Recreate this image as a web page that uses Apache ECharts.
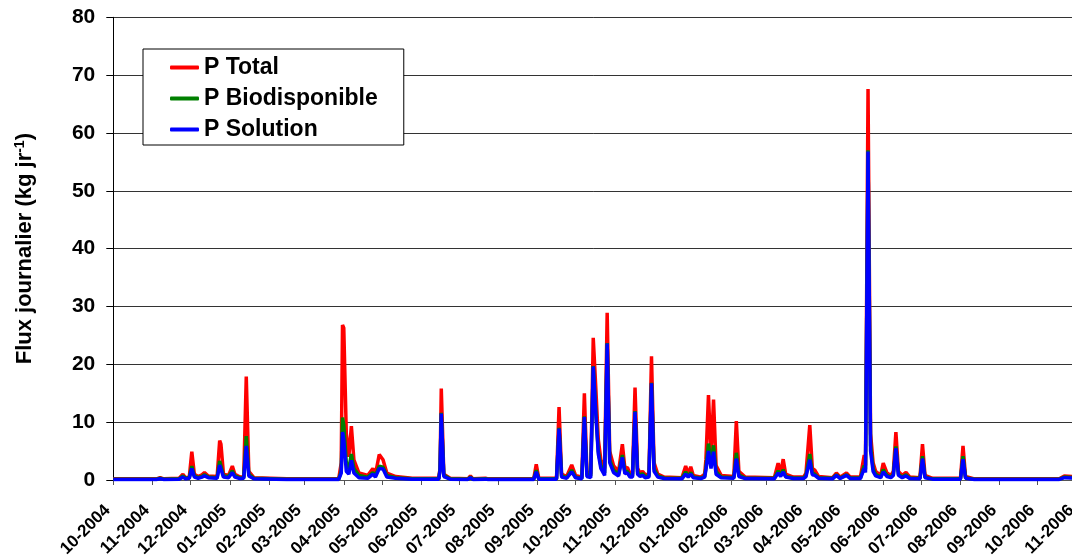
<!DOCTYPE html>
<html>
<head>
<meta charset="utf-8">
<script src="https://cdn.jsdelivr.net/npm/echarts@6/dist/echarts.min.js"></script>
<style>html,body{margin:0;padding:0;background:#fff;}#c{width:1072px;height:559px;}</style>
</head>
<body>
<div id="c"></div>
<script>
// Month-start tick labels on the x axis
const monthTicks = ['2004-10-01','2004-11-01','2004-12-01','2005-01-01','2005-02-01','2005-03-01',
  '2005-04-01','2005-05-01','2005-06-01','2005-07-01','2005-08-01','2005-09-01','2005-10-01',
  '2005-11-01','2005-12-01','2006-01-01','2006-02-01','2006-03-01','2006-04-01','2006-05-01',
  '2006-06-01','2006-07-01','2006-08-01','2006-09-01','2006-10-01','2006-11-01'];

const seriesNames = ['P Total', 'P Biodisponible', 'P Solution'];

// Key dates
const dates = [
  '2004-10-01','2004-11-04','2004-11-07','2004-11-10','2004-11-22','2004-11-25','2004-11-27','2004-11-30',
  '2004-12-02','2004-12-04','2004-12-07','2004-12-10','2004-12-12','2004-12-15','2004-12-22','2004-12-24',
  '2004-12-25','2004-12-27','2004-12-31','2005-01-03','2005-01-05','2005-01-09','2005-01-12','2005-01-14',
  '2005-01-16','2005-01-20','2005-02-15','2005-03-28','2005-03-30','2005-03-31','2005-04-01','2005-04-03',
  '2005-04-05','2005-04-07','2005-04-09','2005-04-13','2005-04-20','2005-04-24','2005-04-26','2005-04-29',
  '2005-05-02','2005-05-05','2005-05-12','2005-05-25','2005-06-15','2005-06-16','2005-06-17','2005-06-19',
  '2005-06-24','2005-07-08','2005-07-10','2005-07-12','2005-07-22','2005-07-24','2005-08-29','2005-08-31',
  '2005-09-02','2005-09-16','2005-09-18','2005-09-20','2005-09-24','2005-09-28','2005-10-01','2005-10-06',
  '2005-10-08','2005-10-10','2005-10-13','2005-10-15','2005-10-17','2005-10-19','2005-10-21','2005-10-24',
  '2005-10-26','2005-10-28','2005-10-31','2005-11-04','2005-11-07','2005-11-09','2005-11-11','2005-11-13',
  '2005-11-15','2005-11-17','2005-11-19','2005-11-21','2005-11-23','2005-11-25','2005-11-28','2005-11-30',
  '2005-12-02','2005-12-05','2005-12-10','2005-12-24','2005-12-27','2005-12-29','2005-12-31','2006-01-02',
  '2006-01-08','2006-01-11','2006-01-12','2006-01-14','2006-01-16','2006-01-18','2006-01-20','2006-01-24',
  '2006-02-03','2006-02-05','2006-02-07','2006-02-12','2006-03-07','2006-03-10','2006-03-12','2006-03-14',
  '2006-03-16','2006-03-22','2006-03-30','2006-04-01','2006-04-04','2006-04-06','2006-04-08','2006-04-11',
  '2006-04-22','2006-04-25','2006-04-28','2006-05-03','2006-05-06','2006-05-14','2006-05-17','2006-05-18',
  '2006-05-20','2006-05-22','2006-05-24','2006-05-26','2006-05-30','2006-06-01','2006-06-04','2006-06-07',
  '2006-06-09','2006-06-11','2006-06-13','2006-06-16','2006-06-19','2006-06-22','2006-06-30','2006-07-02',
  '2006-07-04','2006-07-10','2006-08-01','2006-08-03','2006-08-05','2006-08-12','2006-10-18','2006-10-22',
  '2006-10-28','2006-11-05','2006-11-30'
];

const pTotal = [
  0.2, 0.2, 0.4, 0.2, 0.3, 1.0, 0.4, 0.5,
  4.9, 1.0, 0.6, 0.9, 1.3, 0.7, 0.6, 6.8,
  6.2, 1.0, 0.8, 2.4, 1.0, 0.5, 0.6, 17.9,
  1.5, 0.4, 0.2, 0.2, 3.0, 26.8, 26.3, 8.0,
  4.0, 9.3, 3.5, 1.2, 0.8, 2.0, 1.0, 4.4,
  3.5, 1.2, 0.6, 0.3, 0.3, 2.0, 15.8, 1.0,
  0.3, 0.2, 0.7, 0.2, 0.3, 0.2, 0.2, 2.7,
  0.3, 0.3, 12.6, 1.0, 0.6, 2.6, 0.8, 0.5,
  15.0, 1.5, 1.0, 24.6, 16.0, 7.0, 3.5, 2.0,
  28.9, 5.0, 2.5, 1.5, 6.2, 2.0, 2.2, 1.0,
  1.0, 16.0, 2.0, 1.2, 1.5, 0.9, 1.0, 21.4,
  3.0, 1.0, 0.5, 0.4, 2.4, 1.0, 2.3, 0.8,
  0.5, 1.0, 3.6, 14.7, 4.0, 13.9, 2.5, 0.8,
  0.6, 10.2, 1.5, 0.5, 0.4, 2.9, 1.2, 3.6,
  1.0, 0.5, 0.5, 1.2, 9.5, 2.0, 1.7, 0.6,
  0.4, 1.2, 0.5, 1.2, 0.5, 0.5, 4.3, 2.5,
  67.6, 8.0, 3.0, 1.5, 0.8, 2.9, 1.2, 0.8,
  1.5, 8.3, 1.5, 0.8, 1.3, 0.5, 0.4, 6.2,
  0.8, 0.3, 0.3, 5.9, 0.6, 0.2, 0.2, 0.7,
  0.6, 0.5, 0.4
];

const pBio = [
  0.15, 0.15, 0.3, 0.15, 0.2, 0.7, 0.3, 0.4,
  2.4, 0.7, 0.4, 0.6, 0.9, 0.5, 0.4, 3.3,
  3.0, 0.7, 0.6, 1.6, 0.7, 0.35, 0.4, 7.6,
  1.0, 0.3, 0.15, 0.15, 1.5, 10.8, 9.5, 3.0,
  2.0, 4.5, 2.0, 0.8, 0.5, 1.3, 0.7, 2.4,
  2.2, 0.8, 0.4, 0.2, 0.2, 1.8, 11.6, 0.8,
  0.2, 0.15, 0.5, 0.15, 0.2, 0.15, 0.15, 1.7,
  0.2, 0.2, 9.0, 0.7, 0.4, 1.7, 0.5, 0.3,
  11.0, 1.0, 0.7, 19.7, 12.0, 5.0, 2.5, 1.2,
  23.7, 3.5, 1.7, 1.0, 4.3, 1.4, 1.5, 0.7,
  0.7, 11.9, 1.4, 0.8, 1.1, 0.6, 0.7, 16.8,
  2.0, 0.7, 0.35, 0.3, 1.4, 0.6, 1.3, 0.5,
  0.35, 0.6, 2.2, 6.3, 2.5, 6.0, 1.5, 0.5,
  0.4, 4.7, 0.9, 0.35, 0.3, 1.6, 0.8, 1.8,
  0.6, 0.35, 0.35, 0.8, 4.5, 1.2, 1.0, 0.4,
  0.3, 0.9, 0.35, 0.9, 0.35, 0.35, 2.5, 1.8,
  57.0, 6.0, 2.0, 1.0, 0.5, 1.8, 0.8, 0.5,
  1.0, 5.8, 1.0, 0.5, 0.9, 0.35, 0.3, 4.1,
  0.5, 0.2, 0.2, 4.1, 0.4, 0.15, 0.15, 0.5,
  0.45, 0.4, 0.3
];

const pSol = [
  0.1, 0.1, 0.2, 0.1, 0.15, 0.5, 0.2, 0.3,
  2.0, 0.5, 0.3, 0.5, 0.7, 0.4, 0.3, 2.6,
  2.4, 0.5, 0.4, 1.3, 0.5, 0.25, 0.3, 5.9,
  0.7, 0.2, 0.1, 0.1, 1.2, 8.3, 7.0, 1.5,
  1.0, 3.4, 1.2, 0.4, 0.3, 1.0, 0.5, 2.0,
  1.9, 0.5, 0.3, 0.15, 0.15, 1.6, 11.5, 0.6,
  0.15, 0.1, 0.4, 0.1, 0.15, 0.1, 0.1, 1.4,
  0.15, 0.15, 8.9, 0.5, 0.3, 1.4, 0.4, 0.2,
  10.9, 0.6, 0.4, 19.6, 11.5, 4.5, 2.0, 0.8,
  23.6, 3.0, 1.3, 0.7, 3.9, 1.1, 1.2, 0.5,
  0.5, 11.8, 1.0, 0.6, 0.8, 0.4, 0.5, 16.7,
  1.5, 0.5, 0.25, 0.2, 1.0, 0.5, 1.0, 0.4,
  0.25, 0.5, 1.8, 5.0, 2.0, 4.9, 1.0, 0.4,
  0.3, 3.7, 0.6, 0.25, 0.2, 1.2, 0.6, 1.4,
  0.5, 0.25, 0.25, 0.6, 3.5, 0.9, 0.8, 0.3,
  0.2, 0.8, 0.25, 0.8, 0.25, 0.25, 2.0, 1.3,
  56.8, 5.0, 1.5, 0.7, 0.4, 1.4, 0.6, 0.4,
  0.8, 5.5, 0.8, 0.4, 0.7, 0.25, 0.2, 3.7,
  0.4, 0.15, 0.15, 3.6, 0.3, 0.1, 0.1, 0.4,
  0.35, 0.3, 0.2
];

const colors = ['#ff0000', '#008000', '#0000ff'];
const FONT = 'Arial, "Liberation Sans", Helvetica, sans-serif';

const START = '2004-10-01';
const END = '2006-11-30';
function utc(s) { const p = s.split('-'); return Date.UTC(+p[0], +p[1] - 1, +p[2]); }
// day number counted from the first day of the axis
function dayNum(s) { return Math.round((utc(s) - utc(START)) / 86400000); }
function dayLabel(n) {
  const d = new Date(utc(START) + Math.round(n) * 86400000);
  const m = d.getUTCMonth() + 1;
  return (m < 10 ? '0' + m : '' + m) + '-' + d.getUTCFullYear();
}
const tickDays = monthTicks.map(dayNum);
function pairs(vals) { return vals.map((v, i) => [dayNum(dates[i]), v]); }

const chart = echarts.init(document.getElementById('c'), null, { renderer: 'canvas' });
const option = {
  animation: false,
  backgroundColor: '#fff',
  grid: { left: 113.3, top: 17.3, width: 1000.4, height: 462.7, outerBoundsMode: 'none', containLabel: false },
  legend: {
    orient: 'vertical',
    left: 143, top: 49,
    backgroundColor: '#fff',
    borderColor: '#000', borderWidth: 1,
    padding: [7, 26, 4, 27],
    itemGap: 8,
    itemWidth: 29, itemHeight: 4,
    icon: 'roundRect',
    data: seriesNames,
    textStyle: { fontFamily: FONT, fontSize: 23, fontWeight: 'bold', color: '#000', lineHeight: 23 }
  },
  xAxis: {
    type: 'value',
    min: 0, max: dayNum(END),
    axisLine: { lineStyle: { color: '#555', width: 1 } },
    axisTick: { show: true, customValues: tickDays, length: 5, lineStyle: { color: '#555' } },
    axisLabel: {
      customValues: tickDays,
      rotate: 45, margin: 22,
      padding: [0, 8, 0, 0],
      fontFamily: FONT, fontSize: 17, fontWeight: 'bold', color: '#000',
      hideOverlap: false, showMinLabel: true, showMaxLabel: true,
      formatter: function (v) { return dayLabel(v); }
    },
    splitLine: { show: false }
  },
  yAxis: {
    type: 'value', min: 0, max: 80, interval: 10,
    name: 'Flux journalier (kg jr{sup|-1})',
    nameLocation: 'middle', nameGap: 76,
    nameTextStyle: {
      fontFamily: FONT, fontSize: 22, fontWeight: 'bold', color: '#000',
      rich: { sup: { fontFamily: FONT, fontSize: 14, fontWeight: 'bold', color: '#000', padding: [0, 0, 10, 0] } }
    },
    axisLine: { show: true, lineStyle: { color: '#000', width: 1 } },
    axisTick: { show: true, length: 7, lineStyle: { color: '#000' } },
    axisLabel: { fontFamily: FONT, fontSize: 21, fontWeight: 'bold', color: '#000', margin: 18 },
    splitLine: { show: true, lineStyle: { color: '#333', width: 1 } }
  },
  series: [
    { name: seriesNames[0], type: 'line', data: pairs(pTotal), showSymbol: false, symbol: 'none', color: colors[0], lineStyle: { width: 3.5, color: colors[0] }, z: 2 },
    { name: seriesNames[1], type: 'line', data: pairs(pBio), showSymbol: false, symbol: 'none', color: colors[1], lineStyle: { width: 3.5, color: colors[1] }, z: 3 },
    { name: seriesNames[2], type: 'line', data: pairs(pSol), showSymbol: false, symbol: 'none', color: colors[2], lineStyle: { width: 3.5, color: colors[2] }, z: 4 }
  ]
};
chart.setOption(option);
</script>
</body>
</html>
